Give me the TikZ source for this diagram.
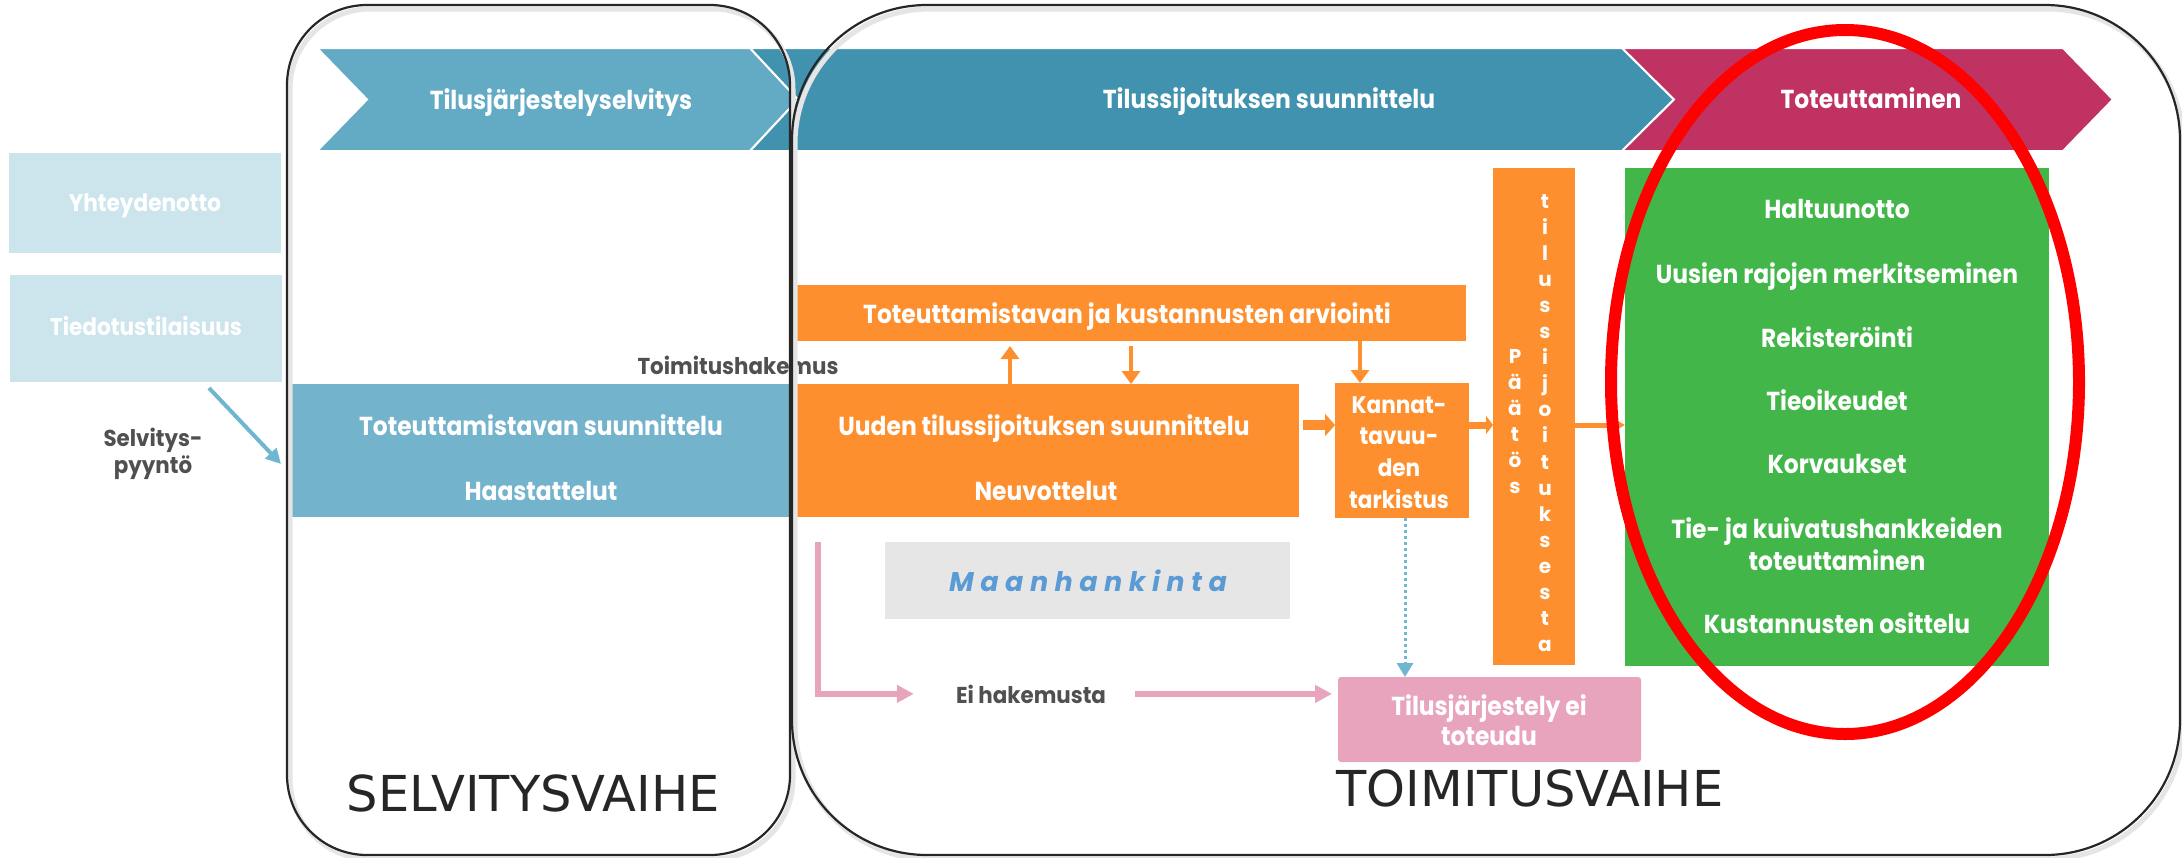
\documentclass[tikz,border=0pt]{standalone}
\usepackage{fontspec}
\setmainfont{Poppins}
\newfontfamily\wfont{Poppins}[FakeStretch=0.9]
\newfontfamily\gfont{Poppins}[FakeStretch=0.93]
\newfontfamily\capfont{DejaVu Sans}
\newfontfamily\spacedfont{Poppins}[LetterSpace=24]
\usetikzlibrary{arrows.meta}
\definecolor{chevA}{HTML}{63ABC5}
\definecolor{chevB}{HTML}{4192AF}
\definecolor{chevC}{HTML}{C03262}
\definecolor{lightbl}{HTML}{CCE5EC}
\definecolor{bluebx}{HTML}{73B4CC}
\definecolor{orng}{HTML}{FE8F2E}
\definecolor{grn}{HTML}{42B649}
\definecolor{pinkc}{HTML}{E8A4BD}
\definecolor{grayb}{HTML}{E6E6E6}
\definecolor{txtgray}{HTML}{505050}
\definecolor{maanc}{HTML}{5B9BD5}
\definecolor{arrbl}{HTML}{6FB6D0}
\definecolor{bigcol}{HTML}{262626}
\begin{document}
\begin{tikzpicture}[x=1pt,y=-1pt,
  wt/.style={text=white, font=\wfont\bfseries\fontsize{26}{30}\selectfont, inner sep=0pt, anchor=base},
  lt/.style={text=white, font=\wfont\bfseries\fontsize{24}{30}\selectfont, inner sep=0pt, anchor=base},
  kt/.style={text=white, font=\wfont\bfseries\fontsize{24}{30}\selectfont, inner sep=0pt, anchor=base},
  vt/.style={text=white, font=\bfseries\fontsize{20}{24}\selectfont, inner sep=0pt, anchor=base},
  gt/.style={text=txtgray, font=\gfont\bfseries\fontsize{23}{28}\selectfont, inner sep=0pt, anchor=base},
  mt/.style={text=maanc, font=\spacedfont\bfseries\itshape\fontsize{27}{30}\selectfont, inner sep=0pt, anchor=base},
  bigt/.style={text=bigcol, font=\capfont\fontsize{49.5}{56}\selectfont, inner sep=0pt, anchor=base},
  plainbox/.style={anchor=north west, inner sep=0pt, outer sep=0pt, draw=none},
  chev/.style={draw=white, line width=2pt, line join=miter},
  oarrow/.style={draw=orng, line width=4pt, -{Triangle[width=18pt,length=13pt]}},
  parrow/.style={draw=pinkc, line width=5.5pt, -{Triangle[width=17pt,length=17pt]}},
  frame/.style={draw=black!85, line width=2.2pt, inner sep=0pt, outer sep=0pt, anchor=north west},
  shadowline/.style={draw=black!10, line width=5pt}
]
\useasboundingbox (0,0) rectangle (2182,857);
\fill[white] (0,0) rectangle (2182,857);

% chevrons
\filldraw[chev, fill=chevA] (317,48) -- (750,48) -- (798,99.5) -- (750,151) -- (317,151) -- (367,99.5) -- cycle;
\filldraw[chev, fill=chevB] (750,48) -- (1622,48) -- (1674,99.5) -- (1622,151) -- (750,151) -- (798,99.5) -- cycle;
\filldraw[chev, fill=chevC] (1622,48) -- (2063,48) -- (2113,99.5) -- (2063,151) -- (1622,151) -- (1674,99.5) -- cycle;
\node[wt] (chA) at (561,109) {Tilusjärjestelyselvitys};
\node[wt] (chB) at (1269,108) {Tilussijoituksen suunnittelu};
\node[wt] (chC) at (1871,108) {Toteuttaminen};

% left boxes
\node[plainbox, fill=lightbl, minimum width=272pt, minimum height=100pt] (yht) at (9,153) {};
\node[lt] (yhtT) at (145,211) {Yhteydenotto};
\node[plainbox, fill=lightbl, minimum width=272pt, minimum height=107pt] (tied) at (10,275) {};
\node[lt] (tiedT) at (146,335) {Tiedotustilaisuus};

% blue box
\node[plainbox, fill=bluebx, minimum width=500pt, minimum height=133pt] (suun) at (290,384) {};
\node[wt] (suunT1) at (541,435) {Toteuttamistavan suunnittelu};
\node[wt] (suunT2) at (541,500) {Haastattelut};

% orange boxes
\node[plainbox, fill=orng, minimum width=675pt, minimum height=56pt] (arvi) at (791,285) {};
\node[wt] (arviT) at (1127,323) {Toteuttamistavan ja kustannusten arviointi};
\node[plainbox, fill=orng, minimum width=507pt, minimum height=133pt] (uud) at (792,384) {};
\node[wt] (uudT1) at (1044,435) {Uuden tilussijoituksen suunnittelu};
\node[wt] (uudT2) at (1046,500) {Neuvottelut};
\node[plainbox, fill=orng, minimum width=134pt, minimum height=135pt] (kann) at (1335,383) {};
\node[kt] (kT1) at (1399,413) {Kannat-};
\node[kt] (kT2) at (1399,444) {tavuu-};
\node[kt] (kT3) at (1399,476) {den};
\node[kt] (kT4) at (1399,508) {tarkistus};
\node[plainbox, fill=orng, minimum width=82pt, minimum height=497pt] (paat) at (1493,168) {};
\foreach \c [count=\i] in {P,ä,ä,t,ö,s}
  \node[vt] (pl\i) at (1515,{363+26*(\i-1)}) {\c};
\foreach \c [count=\i] in {t,i,l,u,s,s,i,j,o,i,t,u,k,s,e,s,t,a}
  \node[vt] (pr\i) at (1545,{208+26.1*(\i-1)}) {\c};

% green box
\node[plainbox, fill=grn, minimum width=424pt, minimum height=498pt] (grnbox) at (1625,168) {};
\node[wt] (g1) at (1837,218) {Haltuunotto};
\node[wt] (g2) at (1837,283) {Uusien rajojen merkitseminen};
\node[wt] (g3) at (1837,347) {Rekisteröinti};
\node[wt] (g4) at (1837,410) {Tieoikeudet};
\node[wt] (g5) at (1837,473) {Korvaukset};
\node[wt] (g6) at (1837,538) {Tie- ja kuivatushankkeiden};
\node[wt] (g7) at (1837,570) {toteuttaminen};
\node[wt] (g8) at (1837,633) {Kustannusten osittelu};

% grey box
\node[plainbox, fill=grayb, minimum width=405pt, minimum height=77pt] (maan) at (885,542) {};
\node[mt] (maanT) at (1088,591) {Maanhankinta};

% pink box
\node[plainbox, fill=pinkc, rounded corners=3pt, minimum width=303pt, minimum height=85pt] (tilnot) at (1338,677) {};
\node[wt] (tn1) at (1489,715) {Tilusjärjestely ei};
\node[wt] (tn2) at (1489,745) {toteudu};

% grey labels
\node[gt] (hak) at (738,374) {Toimitushakemus};
\node[gt] (selvT1) at (153,446) {Selvitys-};
\node[gt] (selvT2) at (153,473) {pyyntö};
\node[gt] (ei) at (1031,703) {Ei hakemusta};

% phase labels
\node[bigt] (selvL) at (533,811) {SELVITYSVAIHE};
\node[bigt] (toimL) at (1530,806) {TOIMITUSVAIHE};

% connectors
\coordinate (upx) at (1010,0);
\coordinate (dnx) at (1131,0);
\coordinate (kx) at (1360,0);
\coordinate (ry) at (0,425);
\coordinate (dx) at (1405,0);
\draw[oarrow, shorten >=5pt] (upx |- uud.north) -- (upx |- arvi.south);
\draw[oarrow, shorten <=5pt] (dnx |- arvi.south) -- (dnx |- uud.north);
\draw[oarrow] (kx |- arvi.south) -- (kx |- kann.north);
\draw[draw=orng, line width=10pt, -{Triangle[width=22pt,length=10pt]}, shorten <=4pt] (uud.east |- ry) -- (kann.west |- ry);
\draw[draw=orng, line width=7pt, -{Triangle[width=18pt,length=7pt]}] (kann.east |- ry) -- (paat.west |- ry);
\draw[draw=orng, line width=5pt, -{Triangle[width=13pt,length=12pt]}] (paat.east |- ry) -- (grnbox.west |- ry);

\coordinate (pk) at (818,542);
\draw[parrow, shorten >=42pt] (pk) |- (ei.west);
\draw[parrow, shorten <=29pt, shorten >=6pt] (ei.east) -- (ei.east -| tilnot.west);

\draw[draw=arrbl, line width=3pt, dash pattern=on 3pt off 3pt, -{Triangle[width=16pt,length=14pt]}] (dx |- kann.south) -- (dx |- tilnot.north);

\coordinate (sa) at (209,388);
\coordinate (sb) at (281,464);
\draw[draw=arrbl, line width=4pt, -{Triangle[width=15pt,length=15pt]}] (sa) -- (sb);

% red ellipse
\draw[red, line width=12pt] (1845,382) ellipse [x radius=234pt, y radius=352pt];

% phase frames
\draw[shadowline, rounded corners=80pt] (290,9) rectangle (793,859);
\draw[shadowline, rounded corners=135pt] (795,9) rectangle (2183,859);
\node[frame, rounded corners=80pt, minimum width=503pt, minimum height=850pt] (selv) at (287,5) {};
\node[frame, rounded corners=135pt, minimum width=1388pt, minimum height=850pt] (toim) at (792,5) {};
\end{tikzpicture}
\end{document}
